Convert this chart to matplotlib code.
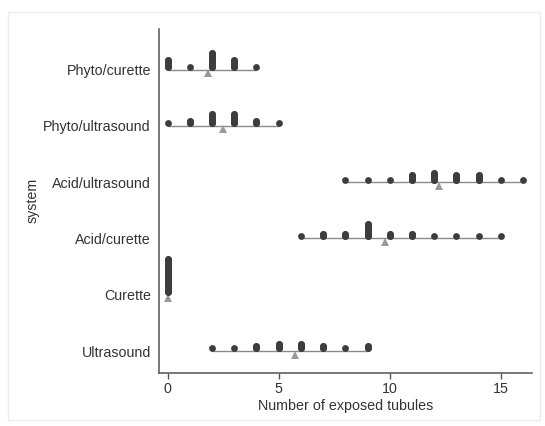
import matplotlib
matplotlib.use("Agg")
import matplotlib.pyplot as plt
from matplotlib.patches import Rectangle

plt.rcParams['font.family'] = ['Liberation Sans', 'DejaVu Sans']

# Categories from bottom to top
categories = ["Ultrasound", "Curette", "Acid/curette", "Acid/ultrasound",
              "Phyto/ultrasound", "Phyto/curette"]

# Distinct observed values and how many observations share each value
ultrasound_vals = [2, 3, 4, 5, 6, 7, 8, 9]
ultrasound_cnt = [1, 1, 2, 3, 3, 2, 1, 2]

curette_vals = [0]
curette_cnt = [15]

acid_curette_vals = [6, 7, 8, 9, 10, 11, 12, 13, 14, 15]
acid_curette_cnt = [1, 2, 2, 6, 2, 2, 1, 1, 1, 1]

acid_ultra_vals = [8, 9, 10, 11, 12, 13, 14, 15, 16]
acid_ultra_cnt = [1, 1, 1, 3, 4, 3, 3, 1, 1]

phyto_ultra_vals = [0, 1, 2, 3, 4, 5]
phyto_ultra_cnt = [1, 2, 5, 5, 2, 1]

phyto_curette_vals = [0, 1, 2, 3, 4]
phyto_curette_cnt = [4, 1, 7, 4, 1]

groups = [
    (ultrasound_vals, ultrasound_cnt),
    (curette_vals, curette_cnt),
    (acid_curette_vals, acid_curette_cnt),
    (acid_ultra_vals, acid_ultra_cnt),
    (phyto_ultra_vals, phyto_ultra_cnt),
    (phyto_curette_vals, phyto_curette_cnt),
]

xticks = [0, 5, 10, 15]

fig = plt.figure(figsize=(5.45, 4.26), dpi=100)
fig.patch.set_facecolor("white")
# faint outer graph-region frame
fig.add_artist(Rectangle((8 / 545, 1 - 420 / 426), 532 / 545, 408 / 426,
                         transform=fig.transFigure, fill=False,
                         edgecolor="#ececec", linewidth=1.0))

ax = fig.add_axes([159.3 / 545, 1 - 372.7 / 426, (532 - 159.3) / 545,
                   (372.7 - 29) / 426])

dot_color = "#3d3d3d"
line_color = "#8a8a8a"
tri_color = "#9a9a9a"
step = 0.042      # vertical stacking step (data units)
first = 0.045     # first dot center above baseline
msize = 4.9

for i, (vals, cnts) in enumerate(groups):
    obs = []
    for v, c in zip(vals, cnts):
        obs += [v] * c
    lo, hi = min(vals), max(vals)
    if hi > lo:
        ax.plot([lo, hi], [i, i], color=line_color, lw=1.0, zorder=1,
                solid_capstyle="butt")
    xs, ys = [], []
    for v, c in zip(vals, cnts):
        col_y = [i + first + k * step for k in range(c)]
        xs += [v] * c
        ys += col_y
        if c > 1:
            ax.plot([v, v], [col_y[0], col_y[-1]], color=dot_color,
                    lw=msize, solid_capstyle="round", zorder=3)
    ax.plot(xs, ys, linestyle="none", marker="o", markersize=msize,
            color=dot_color, markeredgewidth=0, zorder=3)
    mean = sum(obs) / len(obs)
    ax.plot([mean], [i - 0.065], linestyle="none", marker="^", markersize=5.8,
            color=tri_color, markeredgewidth=0, zorder=2)

ax.set_xlim(-0.37, 16.4)
ax.set_ylim(-0.385, 5.72)
ax.set_xticks(xticks)
ax.set_xticklabels([str(t) for t in xticks])
ax.set_yticks(range(len(categories)))
ax.set_yticklabels(categories)

for s in ["top", "right"]:
    ax.spines[s].set_visible(False)
for s in ["left", "bottom"]:
    ax.spines[s].set_color("#555555")
    ax.spines[s].set_linewidth(1.1)

ax.tick_params(axis="x", length=4, width=1, color="#555555", pad=3,
               labelsize=10.3, labelcolor="#333333")
ax.tick_params(axis="y", length=0, pad=6, labelsize=10.3, labelcolor="#333333")

ax.set_xlabel("Number of exposed tubules", fontsize=10.3, color="#333333",
              labelpad=2)
ax.set_ylabel("system", fontsize=10.3, color="#333333", labelpad=3)

fig.savefig("out.png", dpi=100, facecolor="white")
